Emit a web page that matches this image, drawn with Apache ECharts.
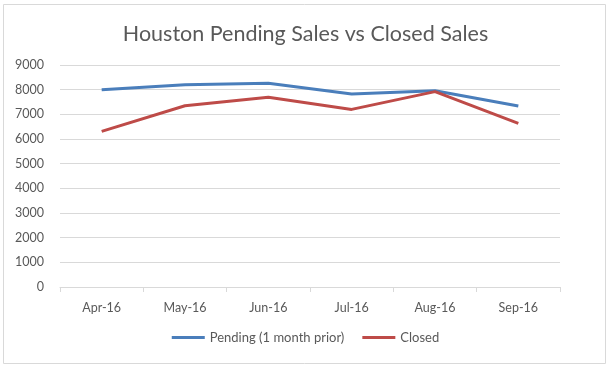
<!DOCTYPE html>
<html><head><meta charset="utf-8">
<script src="https://cdn.jsdelivr.net/npm/echarts@6/dist/echarts.min.js"></script>
<style>html,body{margin:0;padding:0;background:#fff}#c{width:611px;height:372px}</style>
</head><body><div id="c"></div>
<script>
const categories = ['Apr-16','May-16','Jun-16','Jul-16','Aug-16','Sep-16'];
const pending = [8000, 8200, 8260, 7820, 7960, 7340];
const closed = [6310, 7350, 7690, 7200, 7920, 6630];
const yTicks = [0, 9000, 1000];

const chart = echarts.init(document.getElementById('c'));
const font = 'Lato, "Open Sans", sans-serif';
chart.setOption({
  animation: false,
  graphic: [{type:'rect', shape:{x:3.5,y:4.5,width:602,height:359}, style:{fill:'none', stroke:'#d9d9d9', lineWidth:1}, silent:true}],
  title: {text:'Houston Pending Sales vs Closed Sales', left:'center', top:18,
    textStyle:{fontFamily:font, fontSize:21.5, fontWeight:'normal', color:'#595959'}},
  grid: {left:60, right:51, top:65, bottom:85},
  legend: {bottom:23, left:'center', itemWidth:33, itemHeight:3, itemGap:18, icon:'rect',
    textStyle:{fontFamily:font, fontSize:13, color:'#595959'},
    data:['Pending (1 month prior)','Closed']},
  xAxis: {type:'category', data:categories, boundaryGap:true,
    axisLine:{lineStyle:{color:'#d9d9d9'}},
    axisTick:{show:true, length:5, lineStyle:{color:'#d9d9d9'}},
    axisLabel:{fontFamily:font, fontSize:12.5, color:'#595959', margin:14}},
  yAxis: {type:'value', min:yTicks[0], max:yTicks[1], interval:yTicks[2],
    axisLine:{show:false}, axisTick:{show:false},
    splitLine:{lineStyle:{color:'#d9d9d9'}},
    axisLabel:{fontFamily:font, fontSize:12.5, color:'#595959', margin:16, formatter: v => String(v)}},
  series: [
    {name:'Pending (1 month prior)', type:'line', data:pending, symbol:'none',
      lineStyle:{width:3, color:'#4a7ebb'}, itemStyle:{color:'#4a7ebb'}},
    {name:'Closed', type:'line', data:closed, symbol:'none',
      lineStyle:{width:3, color:'#be4b48'}, itemStyle:{color:'#be4b48'}}
  ]
});
</script></body></html>
